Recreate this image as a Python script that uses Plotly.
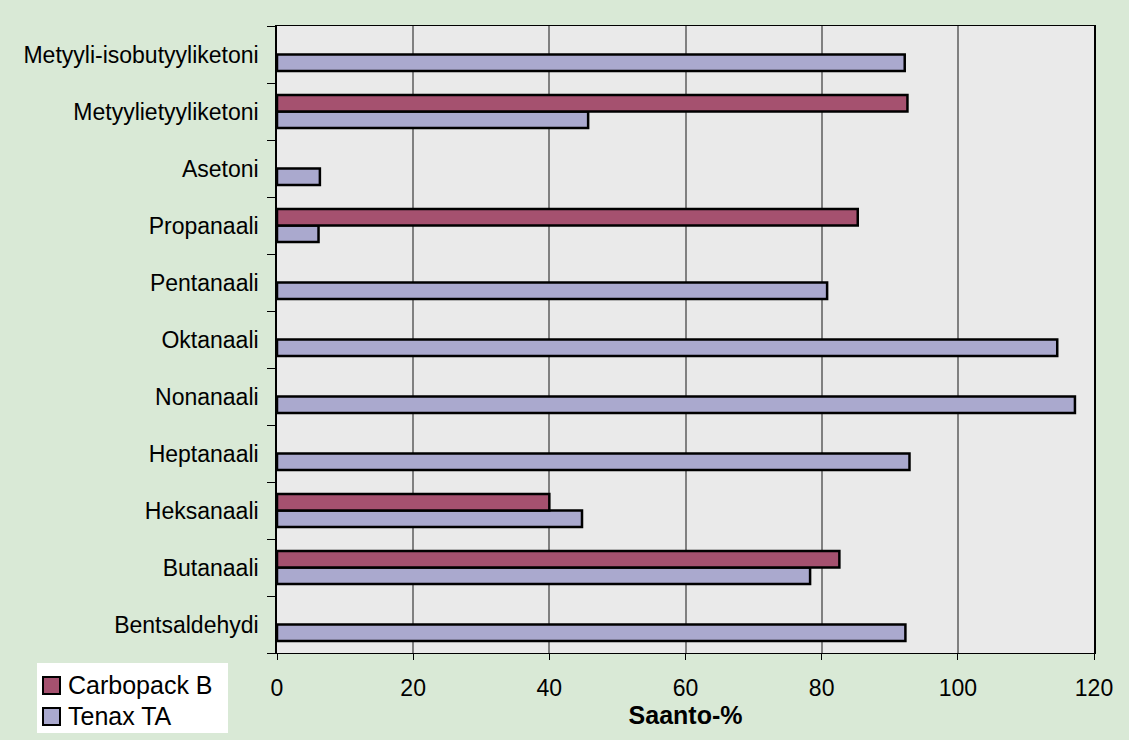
import plotly.graph_objects as go

# Recovery (%) per compound for two sorbent tubes
compounds = [
    "Bentsaldehydi", "Butanaali", "Heksanaali", "Heptanaali", "Nonanaali",
    "Oktanaali", "Pentanaali", "Propanaali", "Asetoni",
    "Metyylietyyliketoni", "Metyyli-isobutyyliketoni",
]
tenax_ta = [92.3, 78.3, 44.8, 92.9, 117.2, 114.6, 80.8, 6.1, 6.3, 45.7, 92.2]
carbopack_b = [None, 82.6, 40.0, None, None, None, None, 85.3, None, 92.6, None]

x_ticks = [0, 20, 40, 60, 80, 100, 120]

series = [("Carbopack B", carbopack_b, "#A5516F"), ("Tenax TA", tenax_ta, "#AAA9CE")]

FONT = "Liberation Sans, Arial, sans-serif"
W, H = 1129, 740
ML, MR, MT, MB = 277, 35, 26, 87
PW, PH = W - ML - MR, H - MT - MB


def px_x(p):
    return (p - ML) / PW


def px_y(p):
    return (H - MB - p) / PH


fig = go.Figure()
# lower bar of each group is added first, so Tenax sits under Carbopack
for name, vals, col in reversed(series):
    fig.add_trace(go.Bar(
        y=compounds, x=vals, orientation="h", name=name,
        marker=dict(color=col, line=dict(color="#000000", width=2.5)),
        showlegend=False,
    ))

# legend box drawn by hand in the lower-left corner
shapes = [dict(type="rect", xref="paper", yref="paper",
               x0=px_x(37), x1=px_x(228), y0=px_y(733), y1=px_y(663),
               fillcolor="#FFFFFF", line=dict(width=0), layer="above")]
annotations = []
for i, (name, vals, col) in enumerate(series):
    top = 677 + i * 31
    shapes.append(dict(type="rect", xref="paper", yref="paper",
                       x0=px_x(43), x1=px_x(60), y0=px_y(top + 17), y1=px_y(top),
                       fillcolor=col, line=dict(color="#000000", width=2),
                       layer="above"))
    annotations.append(dict(text=name, xref="paper", yref="paper",
                            x=px_x(66), y=px_y(top + 8), xanchor="left",
                            yanchor="middle", showarrow=False,
                            font=dict(family=FONT, size=25, color="#000000")))

fig.update_layout(
    width=W, height=H,
    margin=dict(l=ML, r=MR, t=MT, b=MB),
    paper_bgcolor="#D9E9D6",
    plot_bgcolor="#EAEAEA",
    barmode="group",
    bargap=0.42,
    bargroupgap=0,
    font=dict(family=FONT, size=23, color="#000000"),
    showlegend=False,
    shapes=shapes,
    annotations=annotations,
    xaxis=dict(
        range=[0, 120], tickvals=x_ticks, ticktext=[str(v) for v in x_ticks],
        showgrid=True, gridcolor="#808080", gridwidth=1.5,
        showline=True, linecolor="#000000", linewidth=1, mirror=True,
        ticks="outside", ticklen=6, tickcolor="#000000",
        ticklabelstandoff=8,
        tickfont=dict(size=23), zeroline=False,
        title=dict(text="<b>Saanto-%</b>", font=dict(size=25), standoff=2),
    ),
    yaxis=dict(
        type="category", categoryorder="array", categoryarray=compounds,
        showgrid=False, showline=True, linecolor="#000000", linewidth=1.5,
        mirror=True, ticks="outside", ticklen=8, tickcolor="#000000",
        tickson="boundaries", ticklabelstandoff=12,
        tickfont=dict(size=23),
    ),
)

fig.write_html("out.html")
